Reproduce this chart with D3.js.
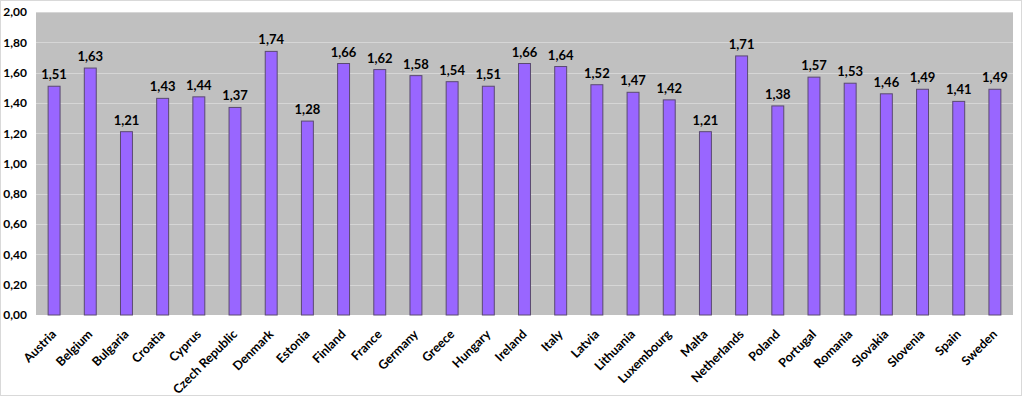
<!DOCTYPE html>
<html>
<head>
<meta charset="utf-8">
<script src="https://cdn.jsdelivr.net/npm/d3@7"></script>
<style>
  body { margin: 0; background: #fff; }
  svg { display: block; }
</style>
</head>
<body>
<div id="chart"></div>
<script>
  // data
  countries = ["Austria", "Belgium", "Bulgaria", "Croatia", "Cyprus", "Czech Republic", "Denmark",
    "Estonia", "Finland", "France", "Germany", "Greece", "Hungary", "Ireland", "Italy", "Latvia",
    "Lithuania", "Luxembourg", "Malta", "Netherlands", "Poland", "Portugal", "Romania", "Slovakia",
    "Slovenia", "Spain", "Sweden"]
  values = [1.51, 1.63, 1.21, 1.43, 1.44, 1.37, 1.74, 1.28, 1.66, 1.62, 1.58, 1.54, 1.51, 1.66,
    1.64, 1.52, 1.47, 1.42, 1.21, 1.71, 1.38, 1.57, 1.53, 1.46, 1.49, 1.41, 1.49]
  yTicks = [0, 0.2, 0.4, 0.6, 0.8, 1.0, 1.2, 1.4, 1.6, 1.8, 2.0]

  canvas = ({width: 1024, height: 397})
  margin = ({top: 12, right: 11, bottom: 82, left: 36})
  font = "Lato, 'Open Sans', sans-serif"
  fmt = d => d.toFixed(2).replace(".", ",")

  data = countries.map((c, i) => ({name: c, v: values[i]}))

  x = d3.scaleBand()
    .domain(countries)
    .range([margin.left, canvas.width - margin.right])
    .paddingInner(0.67)
    .paddingOuter(0.335)

  y = d3.scaleLinear()
    .domain([0, 2])
    .range([canvas.height - margin.bottom, margin.top])

  var svg = d3.select("#chart").append("svg")
    .attr("width", canvas.width)
    .attr("height", canvas.height)
    .style("font-family", font)

  // outer border
  svg.append("rect")
    .attr("x", 0.5).attr("y", 0.5)
    .attr("width", canvas.width - 3).attr("height", canvas.height - 2)
    .attr("fill", "none").attr("stroke", "#d9d9d9")

  // plot background
  svg.append("rect")
    .attr("x", margin.left).attr("y", margin.top)
    .attr("width", canvas.width - margin.left - margin.right)
    .attr("height", canvas.height - margin.top - margin.bottom)
    .attr("fill", "#c0c0c0")

  // gridlines
  svg.append("g")
    .selectAll("line")
    .data(yTicks.slice(1))
    .join("line")
    .attr("x1", margin.left).attr("x2", canvas.width - margin.right)
    .attr("y1", d => Math.round(y(d)) + 0.5).attr("y2", d => Math.round(y(d)) + 0.5)
    .attr("stroke", "#d6d6d6").attr("stroke-width", 1)

  // bars
  svg.append("g")
    .selectAll("rect")
    .data(data)
    .join("rect")
    .attr("x", d => x(d.name))
    .attr("y", d => y(d.v))
    .attr("width", x.bandwidth())
    .attr("height", d => y(0) - y(d.v))
    .attr("fill", "#9966ff")
    .attr("stroke", "#5a4a70")
    .attr("stroke-width", 1)

  // value labels
  svg.append("g")
    .selectAll("text")
    .data(data)
    .join("text")
    .attr("x", d => x(d.name) + x.bandwidth() / 2)
    .attr("y", d => y(d.v) - 7)
    .attr("text-anchor", "middle")
    .attr("font-size", 13)
    .attr("font-weight", "bold")
    .attr("fill", "#000")
    .text(d => fmt(d.v))

  // y axis
  yAxis = g => g
    .attr("transform", `translate(${margin.left},0)`)
    .call(d3.axisLeft(y).tickValues(yTicks).tickFormat(fmt).tickSize(0).tickPadding(9))
    .call(g => g.select(".domain").remove())
    .call(g => g.selectAll("text")
      .attr("font-size", 12).attr("font-weight", "bold").attr("fill", "#000")
      .attr("font-family", font))

  svg.append("g").call(yAxis)

  // x axis
  xAxis = g => g
    .attr("transform", `translate(0,${canvas.height - margin.bottom})`)
    .call(d3.axisBottom(x).tickSize(0).tickPadding(0))
    .call(g => g.select(".domain").remove())
    .call(g => g.selectAll("text")
      .attr("font-size", 12.5).attr("font-weight", "bold").attr("fill", "#000")
      .attr("font-family", font)
      .attr("text-anchor", "end")
      .attr("y", 0)
      .attr("dy", null)
      .attr("transform", "translate(3,20) rotate(-45)"))

  svg.append("g").call(xAxis)
</script>
</body>
</html>
